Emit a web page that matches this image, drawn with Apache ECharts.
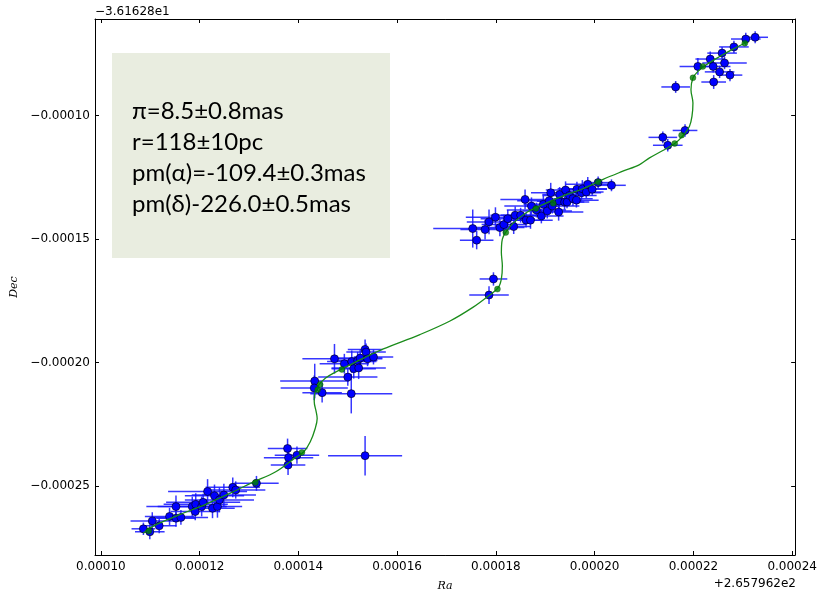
<!DOCTYPE html>
<html>
<head>
<meta charset="utf-8">
<script src="https://cdn.jsdelivr.net/npm/echarts@6/dist/echarts.min.js"></script>
<style>
  html, body { margin: 0; padding: 0; background: #ffffff; }
  #chart { width: 820px; height: 597px; }
</style>
</head>
<body>
<div id="chart"></div>
<script>
// Astrometric positions, offsets in micro-degrees from the reference point
// (Ra offset from 2.657962e2, Dec offset from -3.61628e1).
const raObs = [
  108.6, 109.9, 110.4, 111.8, 113.9, 115.2, 115.2, 116.2, 118.5, 119.1,
  119.2, 120.4, 120.7, 121.6, 122.6, 123.0, 123.6, 124.0, 124.9, 126.7,
  127.3, 131.5, 137.8, 138.0, 137.9, 139.7,
  143.3, 143.2, 144.8, 147.3, 149.3, 150.0, 150.7, 150.8, 151.2, 152.0,
  152.2, 152.5, 153.5, 153.7, 154.0, 155.2, 153.5,
  175.3, 176.1, 177.8, 178.6, 179.9, 180.8, 181.6, 182.4, 183.6, 183.9,
  185.0, 185.9, 186.1, 187.0, 187.2, 188.2, 189.2, 189.6, 190.4, 190.8,
  191.1, 191.4, 192.7, 192.8, 192.9, 193.9, 194.1, 194.4, 194.9, 195.6,
  196.3, 196.4, 197.3, 197.5, 198.3, 198.6, 199.5, 200.7, 203.4, 179.5,
  178.6,
  213.8, 214.8, 218.3, 216.4, 220.9, 223.4, 224.0, 224.1, 225.3, 225.8,
  226.3, 227.4, 228.2, 230.6, 232.5
];
const decObs = [
  -267.2, -268.4, -264.0, -266.0, -262.2, -258.2, -262.9, -262.6, -258.2, -260.2,
  -257.3, -258.2, -256.5, -252.1, -258.9, -253.8, -258.2, -255.5, -253.5, -250.4,
  -251.5, -248.8, -234.7, -238.4, -241.4, -237.4,
  -207.4, -210.2, -212.1, -198.4, -200.4, -205.8, -212.5, -199.5, -202.4, -199.1,
  -202.1, -198.1, -194.6, -195.7, -198.4, -197.7, -237.6,
  -145.7, -150.4, -146.1, -143.0, -141.1, -145.3, -144.1, -141.7, -144.9, -140.3,
  -140.3, -133.9, -142.3, -142.3, -136.6, -138.2, -140.6, -135.9, -138.6, -134.4,
  -131.2, -136.6, -139.0, -134.6, -131.9, -135.0, -130.1, -135.0, -132.3, -133.6,
  -134.2, -129.8, -131.2, -129.6, -130.9, -127.8, -129.8, -127.1, -128.2, -166.1,
  -172.6,
  -108.8, -112.0, -106.0, -88.4, -80.1, -77.1, -80.1, -86.4, -82.3, -74.7,
  -78.7, -83.6, -72.2, -69.0, -68.3
];
const raErr = [
  2.4, 3.0, 4.4, 3.5, 5.0, 6.0, 4.0, 5.5, 7.0, 5.0,
  6.5, 5.0, 7.5, 8.0, 4.5, 6.0, 5.0, 7.0, 6.5, 5.5,
  6.0, 4.5, 4.0, 5.0, 3.5, 4.5,
  7.0, 6.8, 4.0, 6.5, 5.0, 6.0, 8.3, 5.0, 4.5, 4.0,
  5.5, 4.5, 3.5, 4.0, 3.0, 4.0, 7.5,
  8.0, 3.4, 5.0, 4.5, 6.0, 5.0, 4.5, 5.5, 3.5, 5.0,
  4.0, 5.0, 3.5, 4.5, 5.5, 6.0, 4.5, 4.0, 5.0, 6.5,
  4.0, 5.5, 5.0, 4.5, 3.5, 5.0, 4.0, 3.5, 5.5, 4.0,
  4.5, 3.5, 4.0, 5.0, 3.5, 4.5, 3.0, 3.0, 2.9, 2.8,
  4.0,
  2.9, 3.0, 2.5, 2.9, 3.7, 3.0, 3.5, 2.5, 3.0, 3.0,
  4.5, 2.5, 3.0, 3.0, 2.6
];
const decErr = [
  2.5, 3.0, 3.5, 3.0, 3.5, 4.5, 3.5, 3.0, 4.0, 3.5,
  4.5, 4.0, 3.5, 5.0, 4.0, 4.5, 4.5, 5.0, 4.5, 4.0,
  3.5, 3.0, 4.0, 4.5, 4.0, 3.5,
  7.0, 5.0, 4.0, 6.0, 4.0, 3.5, 8.0, 4.5, 4.0, 3.5,
  4.5, 3.5, 4.0, 3.5, 3.0, 3.0, 8.0,
  7.7, 3.7, 4.0, 5.0, 4.0, 3.5, 4.0, 3.5, 3.0, 3.5,
  3.0, 4.0, 3.0, 3.5, 3.5, 3.0, 3.0, 3.5, 3.0, 3.5,
  4.0, 3.0, 3.5, 3.0, 3.0, 3.0, 3.5, 2.5, 3.0, 3.0,
  3.0, 3.0, 3.0, 3.5, 2.5, 3.0, 2.5, 2.5, 2.4, 2.7,
  3.6,
  2.4, 2.5, 2.5, 2.4, 3.4, 3.0, 2.5, 2.8, 2.5, 2.5,
  2.5, 2.5, 2.5, 2.5, 2.4
];

// Fitted parallax + proper motion track
const raModel = [
  108.6, 110.4, 115.8, 121.2, 126.6, 130.6, 135.4, 139.4, 141.1, 142.4,
  143.4, 143.8, 143.6, 143.2, 143.3, 144.1, 145.5, 147.5, 149.8, 153.2,
  157.2, 164.6, 170.7, 175.4, 178.4, 180.5, 181.1, 181.3, 181.1, 181.3,
  182.0, 183.5, 186.2, 189.6, 193.6, 197.6, 201.7, 205.7, 209.1, 211.1,
  213.8, 216.2, 217.8, 219.2, 219.7, 219.9, 219.5, 219.9, 220.9, 222.6,
  225.3, 228.0, 230.9
];
const decModel = [
  -269.0, -266.3, -261.6, -257.3, -252.4, -248.5, -244.1, -238.4, -236.0, -232.0,
  -226.6, -222.6, -219.9, -215.8, -212.5, -209.1, -206.2, -203.8, -201.5, -198.1,
  -194.4, -188.6, -183.1, -177.5, -173.1, -169.5, -166.1, -160.8, -155.4, -150.0,
  -147.1, -143.5, -139.2, -135.9, -132.5, -129.6, -125.8, -122.5, -119.8, -117.1,
  -114.1, -111.3, -108.3, -104.3, -100.3, -94.9, -89.5, -84.8, -82.1, -79.4,
  -76.1, -73.1, -70.2
];

// Model positions at the observation epochs
const raEpoch = [109.7, 131.3, 140.7, 144.4, 143.9, 148.8, 180.3, 182.0, 188.1, 191.6, 200.7, 216.2, 217.6, 219.9, 221.9, 230.4];
const decEpoch = [-268.1, -248.5, -236.3, -208.8, -210.9, -202.7, -170.2, -147.3, -137.6, -135.5, -126.9, -111.3, -107.9, -84.7, -80.1, -70.7];

// Axis ticks
const raTicks = [100, 120, 140, 160, 180, 200, 220, 240];
const decTicks = [-100, -150, -200, -250];
const raOffsetLabel = '+2.657962e2';
const decOffsetLabel = '\u22123.61628e1';

const fitLines = [
  'π=8.5±0.8mas',
  'r=118±10pc',
  'pm(α)=-109.4±0.3mas',
  'pm(δ)-226.0±0.5mas'
];

const obsData = raObs.map((x, i) => [x, decObs[i], raErr[i], decErr[i]]);
const modelData = raModel.map((x, i) => [x, decModel[i]]);
const epochData = raEpoch.map((x, i) => [x, decEpoch[i]]);

const fmtRa = v => (v / 1e6).toFixed(5);
const fmtDec = v => (v < 0 ? '\u2212' : '') + (Math.abs(v) / 1e6).toFixed(5);

const tickFont = { fontFamily: 'DejaVu Sans', fontSize: 12, color: '#000' };
const frameLine = { show: true, lineStyle: { color: '#000', width: 1 } };

const chart = echarts.init(document.getElementById('chart'), null, { renderer: 'canvas' });

chart.setOption({
  animation: false,
  backgroundColor: '#ffffff',
  grid: { left: 95, right: 24, top: 19, bottom: 40, containLabel: false },
  xAxis: [
    {
      type: 'value', min: 98.8, max: 240.6, position: 'bottom',
      axisLine: frameLine, splitLine: { show: false },
      axisTick: { inside: true, length: 4, customValues: raTicks, lineStyle: { color: '#000' } },
      axisLabel: Object.assign({ margin: 6, customValues: raTicks, formatter: fmtRa }, tickFont),
      name: 'Ra', nameLocation: 'middle', nameGap: 26,
      nameTextStyle: { fontFamily: 'DejaVu Serif', fontStyle: 'italic', fontSize: 11, color: '#000' }
    },
    {
      type: 'value', min: 98.8, max: 240.6, position: 'top',
      axisLine: frameLine, splitLine: { show: false },
      axisTick: { inside: true, length: 4, customValues: raTicks, lineStyle: { color: '#000' } },
      axisLabel: { show: false }
    }
  ],
  yAxis: [
    {
      type: 'value', min: -277.8, max: -60.9, position: 'left',
      axisLine: frameLine, splitLine: { show: false },
      axisTick: { inside: true, length: 4, customValues: decTicks, lineStyle: { color: '#000' } },
      axisLabel: Object.assign({ margin: 5, customValues: decTicks, formatter: fmtDec }, tickFont),
      name: 'Dec', nameLocation: 'middle', nameGap: 72, nameRotate: 90,
      nameTextStyle: { fontFamily: 'DejaVu Serif', fontStyle: 'italic', fontSize: 11, color: '#000' }
    },
    {
      type: 'value', min: -277.8, max: -60.9, position: 'right',
      axisLine: frameLine, splitLine: { show: false },
      axisTick: { inside: true, length: 4, customValues: decTicks, lineStyle: { color: '#000' } },
      axisLabel: { show: false }
    }
  ],
  series: [
    {
      // error bars
      type: 'custom',
      z: 2,
      clip: true,
      data: obsData,
      renderItem: (params, api) => {
        const x = api.value(0), y = api.value(1);
        const ex = api.value(2), ey = api.value(3);
        const l = api.coord([x - ex, y]);
        const r = api.coord([x + ex, y]);
        const t = api.coord([x, y + ey]);
        const b = api.coord([x, y - ey]);
        const style = { stroke: 'rgba(20,20,255,0.85)', lineWidth: 1.5 };
        return {
          type: 'group',
          children: [
            { type: 'line', shape: { x1: l[0], y1: l[1], x2: r[0], y2: r[1] }, style },
            { type: 'line', shape: { x1: t[0], y1: t[1], x2: b[0], y2: b[1] }, style }
          ]
        };
      }
    },
    {
      type: 'scatter',
      z: 3,
      data: obsData.map(d => [d[0], d[1]]),
      symbol: 'circle',
      symbolSize: 8,
      itemStyle: { color: '#0000ff', borderColor: '#000000', borderWidth: 0.6, opacity: 1 }
    },
    {
      type: 'line',
      z: 4,
      data: modelData,
      smooth: 0.35,
      showSymbol: false,
      symbol: 'none',
      lineStyle: { color: '#1a8c1a', width: 1.3 }
    },
    {
      type: 'scatter',
      z: 5,
      data: epochData,
      symbol: 'circle',
      symbolSize: 6,
      itemStyle: { color: '#008000', borderColor: '#004000', borderWidth: 0.4 }
    }
  ],
  graphic: [
    {
      type: 'rect', z: 10,
      shape: { x: 112, y: 53, width: 278, height: 205 },
      style: { fill: '#e9ede0' }
    },
    {
      type: 'text', z: 11, left: 132, top: 96,
      style: {
        text: fitLines.join('\n'),
        fontFamily: 'Lato', fontSize: 24, lineHeight: 31, fill: '#000'
      }
    },
    {
      type: 'text', z: 11, left: 95, top: 6,
      style: { text: decOffsetLabel, fontFamily: 'DejaVu Sans', fontSize: 12, fill: '#000' }
    },
    {
      type: 'text', z: 11, right: 24, top: 578,
      style: { text: raOffsetLabel, fontFamily: 'DejaVu Sans', fontSize: 12, fill: '#000' }
    }
  ]
});
</script>
</body>
</html>
